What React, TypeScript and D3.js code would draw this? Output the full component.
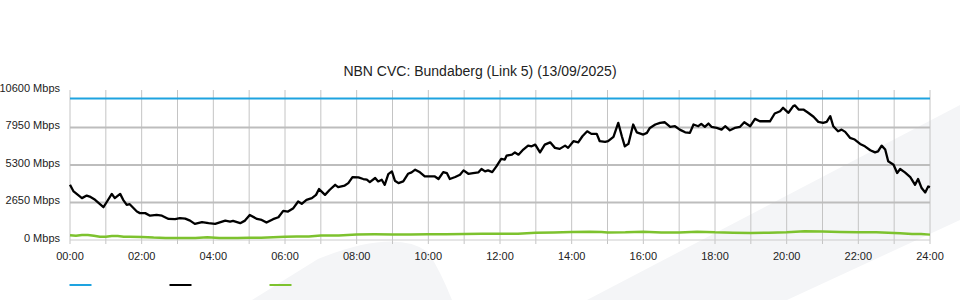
import React from "react";
import * as d3 from "d3";

const TITLE = "NBN CVC: Bundaberg (Link 5) (13/09/2025)";
const yTicks = [0, 2650, 5300, 7950, 10600];
const xTickHours = [0, 2, 4, 6, 8, 10, 12, 14, 16, 18, 20, 22, 24];

// capacity (blue)
const capMinutes = [0, 1440];
const capValues = [10000, 10000];

// traffic (black), minutes since midnight
const blackMinutes = [0,6,20,28,33,42,56,61,70,75,84,89,95,100,112,117,126,134,145,154,165,176,184,193,201,209,221,232,243,260,268,273,285,293,301,313,321,329,340,349,357,365,374,382,388,396,405,412,417,427,435,444,449,460,466,473,483,491,497,502,511,516,522,527,533,539,544,550,558,566,572,578,586,594,603,611,617,625,631,636,645,653,659,667,675,684,689,695,700,707,714,722,728,731,740,745,751,759,767,773,779,787,795,804,812,820,829,834,843,851,858,866,873,882,887,896,901,910,918,924,929,935,943,949,960,966,971,980,988,996,1005,1013,1021,1030,1038,1044,1052,1057,1063,1069,1074,1083,1091,1097,1105,1113,1122,1129,1139,1147,1155,1164,1172,1180,1189,1194,1203,1211,1214,1220,1228,1236,1245,1253,1261,1267,1273,1278,1286,1292,1298,1306,1314,1323,1331,1340,1348,1353,1359,1365,1370,1379,1385,1390,1398,1407,1415,1420,1426,1432,1437,1440];
const blackValues = [3900,3430,2960,3140,3070,2840,2320,2650,3260,2960,3260,2840,2480,2530,2010,1900,1900,1720,1770,1720,1490,1470,1540,1510,1370,1140,1260,1190,1140,1370,1300,1350,1190,1370,1770,1490,1420,1230,1470,1610,2060,2010,2250,2720,2560,2840,2960,3190,3600,3190,3550,3900,3740,3850,4020,4450,4420,4310,4260,4090,4380,4140,4260,3900,4660,4850,4190,4020,4140,4680,4780,4970,4780,4490,4490,4490,4310,4800,4730,4310,4450,4610,4920,4680,4730,4780,5020,4850,4920,4800,5200,5730,5680,5960,6030,6190,6030,6390,6670,6620,6740,6190,6740,6900,6510,6440,6670,6510,6980,6900,7330,7680,7500,7500,6980,6930,6980,7290,8280,7330,6620,6790,8160,7610,7450,7570,7920,8160,8280,8320,8000,8040,7800,7610,7570,8160,8040,8210,8000,8230,8000,7920,7800,8040,7750,7920,8000,8320,8040,8560,8390,8390,8390,8940,9100,9340,8990,9460,9510,9220,9220,8990,8710,8350,8280,8350,8750,8040,7680,7800,7640,7220,7100,6790,6620,6340,6190,6260,6670,6390,5560,5320,4730,5020,4780,4450,3900,4310,3670,3360,3780,3740];

// green series
const greenMinutes = [0,10,20,30,40,50,60,70,80,90,100,120,140,160,180,210,230,250,280,300,320,340,360,380,400,420,450,480,510,540,570,600,630,660,690,720,750,780,810,840,870,890,900,930,960,990,1020,1050,1080,1110,1140,1170,1200,1230,1260,1290,1320,1350,1370,1390,1410,1425,1440];
const greenValues = [330,300,350,360,300,230,230,290,290,230,230,220,170,150,150,150,190,150,150,160,160,190,230,240,250,320,320,390,400,390,390,400,410,420,440,440,450,520,530,560,590,560,530,540,590,530,530,590,540,520,500,520,540,620,600,560,540,540,520,480,430,420,380];

const W = 960;
const H = 300;

function fmt(h: number) {
  return (h < 10 ? "0" : "") + h + ":00";
}

export default function App() {
  const x = d3.scaleLinear().domain([0, 1440]).range([70, 930]);
  const y = d3.scaleLinear().domain([0, 10600]).range([240, 90]);
  const line = d3
    .line<[number, number]>()
    .x((d) => x(d[0]))
    .y((d) => y(d[1]));
  const zip = (a: number[], b: number[]) => a.map((m, i) => [m, b[i]] as [number, number]);

  const hours = d3.range(0, 25);
  const font = "'Liberation Sans', Arial, sans-serif";

  return (
    <svg
      width={W}
      height={H}
      style={{ position: "absolute", left: 0, top: 0, background: "#fff" }}
      fontFamily={font}
    >
      {/* watermark shapes */}
      <path d="M 252 300 L 318 259 Q 395 228 428 252 Q 440 270 452 300 Z" fill="#f4f5f7" />
      <path d="M 960 105 L 587 300 L 787 300 L 960 220 Z" fill="#f4f5f7" />

      {/* vertical grid */}
      {hours.map((h) => (
        <line
          key={"v" + h}
          x1={x(h * 60)}
          x2={x(h * 60)}
          y1={90}
          y2={244}
          stroke="#c4c4c4"
          strokeWidth={1}
        />
      ))}
      {/* horizontal grid */}
      {yTicks.slice(1, 4).map((v) => (
        <line
          key={"h" + v}
          x1={70}
          x2={930}
          y1={y(v)}
          y2={y(v)}
          stroke="#bdbdbd"
          strokeWidth={2}
        />
      ))}
      <line x1={70} x2={930} y1={y(0)} y2={y(0)} stroke="#cccccc" strokeWidth={1} />

      {/* y labels */}
      {yTicks.map((v) => (
        <text
          key={"yl" + v}
          x={60}
          y={y(v) - 2}
          dy="0.35em"
          textAnchor="end"
          fontSize={11}
          fill="#222"
        >
          {v + " Mbps"}
        </text>
      ))}
      {/* x labels */}
      {xTickHours.map((h) => (
        <text
          key={"xl" + h}
          x={x(h * 60)}
          y={260}
          textAnchor="middle"
          fontSize={11}
          fill="#222"
        >
          {fmt(h)}
        </text>
      ))}

      {/* title */}
      <text x={480} y={76} textAnchor="middle" fontSize={14} fill="#222">
        {TITLE}
      </text>

      {/* series */}
      <path d={line(zip(capMinutes, capValues)) || ""} fill="none" stroke="#1ea3e0" strokeWidth={2} />
      <path d={line(zip(greenMinutes, greenValues)) || ""} fill="none" stroke="#7dc22e" strokeWidth={2.5} />
      <path
        d={line(zip(blackMinutes, blackValues)) || ""}
        fill="none"
        stroke="#000"
        strokeWidth={2.3}
        strokeLinejoin="round"
      />

      {/* legend */}
      <line x1={69.5} x2={91.5} y1={285} y2={285} stroke="#1ea3e0" strokeWidth={2} />
      <line x1={169.5} x2={191.5} y1={285} y2={285} stroke="#000" strokeWidth={2} />
      <line x1={269.5} x2={291.5} y1={285} y2={285} stroke="#7dc22e" strokeWidth={2} />
    </svg>
  );
}
